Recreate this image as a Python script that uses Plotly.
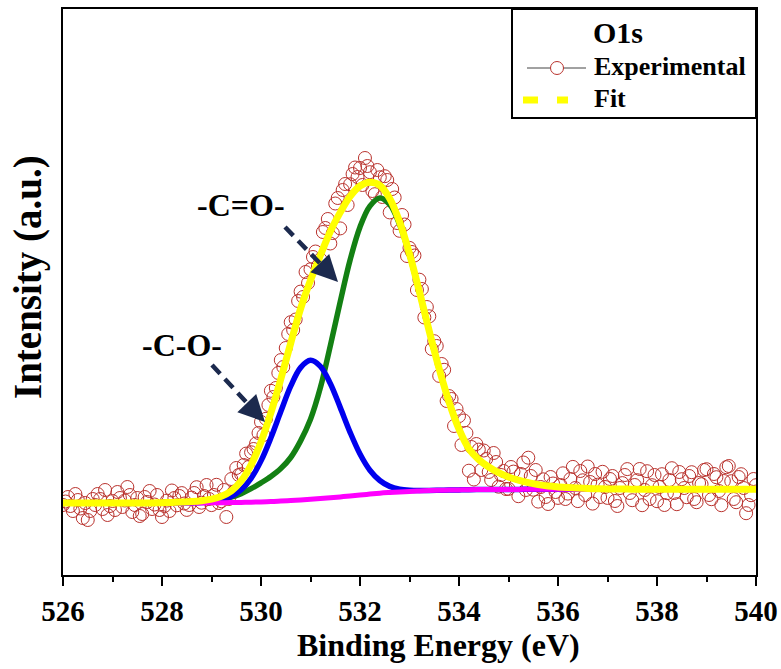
import plotly.graph_objects as go

# ---- O1s XPS spectrum -------------------------------------------------
# Energy grid (eV) on which the background and fitted components are sampled
ENERGY_FIT = [
    526.0, 526.2, 526.4, 526.6, 526.8, 527.0, 527.2, 527.4, 527.6, 527.8,
    528.0, 528.2, 528.4, 528.6, 528.8, 529.0, 529.2, 529.4, 529.6, 529.8,
    530.0, 530.2, 530.4, 530.6, 530.8, 531.0, 531.2, 531.4, 531.6, 531.8,
    532.0, 532.2, 532.4, 532.6, 532.8, 533.0, 533.2, 533.4, 533.6, 533.8,
    534.0, 534.2, 534.4, 534.6, 534.8, 535.0, 535.2, 535.4, 535.6, 535.8,
    536.0, 536.2, 536.4, 536.6, 536.8, 537.0, 537.2, 537.4, 537.6, 537.8,
    538.0, 538.2, 538.4, 538.6, 538.8, 539.0, 539.2, 539.4, 539.6, 539.8,
    540.0,
]

# Shirley-type background (a.u.)
BACKGROUND = [
    720, 720, 720, 720, 720, 720, 720, 720, 720, 720,
    720, 720, 720, 721, 721, 722, 723, 724, 726, 728,
    731, 735, 739, 745, 751, 757, 764, 772, 781, 790,
    800, 809, 818, 825, 831, 836, 840, 844, 847, 849,
    851, 853, 854, 855, 855, 856, 856, 857, 857, 857,
    858, 858, 858, 858, 858, 858, 858, 858, 858, 858,
    858, 858, 858, 858, 858, 858, 858, 858, 858, 858,
    858,
]

# -C-O- component, intensity above background (a.u.)
PEAK_C_O = [
    0, 0, 0, 0, 0, 0, 0, 0, 0, 0,
    0, 0, 1, 1, 4, 11, 27, 61, 127, 239,
    410, 637, 895, 1143, 1323, 1390, 1323, 1143, 895, 637,
    410, 239, 127, 61, 27, 11, 4, 1, 0, 0,
    0, 0, 0, 0, 0, 0, 0, 0, 0, 0,
    0, 0, 0, 0, 0, 0, 0, 0, 0, 0,
    0, 0, 0, 0, 0, 0, 0, 0, 0, 0,
    0,
]

# -C=O- component, intensity above background (a.u.)
PEAK_C_DOUBLE_O = [
    0, 0, 0, 0, 0, 0, 0, 0, 0, 0,
    3, 5, 8, 12, 18, 26, 38, 55, 88, 135,
    190, 250, 325, 430, 590, 800, 1110, 1520, 1950, 2360,
    2680, 2880, 2952, 2880, 2674, 2364, 1989, 1592, 1214, 880,
    608, 410, 300, 225, 168, 125, 92, 66, 47, 33,
    23, 16, 11, 7, 5, 3, 2, 1, 0, 0,
    0, 0, 0, 0, 0, 0, 0, 0, 0, 0,
    0,
]

# Measured spectrum
ENERGY_EXP = [
    526.00, 526.05, 526.10, 526.15, 526.20, 526.25, 526.30, 526.35, 526.40, 526.45,
    526.50, 526.55, 526.60, 526.65, 526.70, 526.75, 526.80, 526.85, 526.90, 526.95,
    527.00, 527.05, 527.10, 527.15, 527.20, 527.25, 527.30, 527.35, 527.40, 527.45,
    527.50, 527.55, 527.60, 527.65, 527.70, 527.75, 527.80, 527.85, 527.90, 527.95,
    528.00, 528.05, 528.10, 528.15, 528.20, 528.25, 528.30, 528.35, 528.40, 528.45,
    528.50, 528.55, 528.60, 528.65, 528.70, 528.75, 528.80, 528.85, 528.90, 528.95,
    529.00, 529.05, 529.10, 529.15, 529.20, 529.25, 529.30, 529.35, 529.40, 529.45,
    529.50, 529.55, 529.60, 529.65, 529.70, 529.75, 529.80, 529.85, 529.90, 529.95,
    530.00, 530.05, 530.10, 530.15, 530.20, 530.25, 530.30, 530.35, 530.40, 530.45,
    530.50, 530.55, 530.60, 530.65, 530.70, 530.75, 530.80, 530.85, 530.90, 530.95,
    531.00, 531.05, 531.10, 531.15, 531.20, 531.25, 531.30, 531.35, 531.40, 531.45,
    531.50, 531.55, 531.60, 531.65, 531.70, 531.75, 531.80, 531.85, 531.90, 531.95,
    532.00, 532.05, 532.10, 532.15, 532.20, 532.25, 532.30, 532.35, 532.40, 532.45,
    532.50, 532.55, 532.60, 532.65, 532.70, 532.75, 532.80, 532.85, 532.90, 532.95,
    533.00, 533.05, 533.10, 533.15, 533.20, 533.25, 533.30, 533.35, 533.40, 533.45,
    533.50, 533.55, 533.60, 533.65, 533.70, 533.75, 533.80, 533.85, 533.90, 533.95,
    534.00, 534.05, 534.10, 534.15, 534.20, 534.25, 534.30, 534.35, 534.40, 534.45,
    534.50, 534.55, 534.60, 534.65, 534.70, 534.75, 534.80, 534.85, 534.90, 534.95,
    535.00, 535.05, 535.10, 535.15, 535.20, 535.25, 535.30, 535.35, 535.40, 535.45,
    535.50, 535.55, 535.60, 535.65, 535.70, 535.75, 535.80, 535.85, 535.90, 535.95,
    536.00, 536.05, 536.10, 536.15, 536.20, 536.25, 536.30, 536.35, 536.40, 536.45,
    536.50, 536.55, 536.60, 536.65, 536.70, 536.75, 536.80, 536.85, 536.90, 536.95,
    537.00, 537.05, 537.10, 537.15, 537.20, 537.25, 537.30, 537.35, 537.40, 537.45,
    537.50, 537.55, 537.60, 537.65, 537.70, 537.75, 537.80, 537.85, 537.90, 537.95,
    538.00, 538.05, 538.10, 538.15, 538.20, 538.25, 538.30, 538.35, 538.40, 538.45,
    538.50, 538.55, 538.60, 538.65, 538.70, 538.75, 538.80, 538.85, 538.90, 538.95,
    539.00, 539.05, 539.10, 539.15, 539.20, 539.25, 539.30, 539.35, 539.40, 539.45,
    539.50, 539.55, 539.60, 539.65, 539.70, 539.75, 539.80, 539.85, 539.90, 539.95,
    540.00,
]

COUNTS_EXP = [
    700, 735, 780, 690, 640, 810, 750, 665, 570, 720,
    550, 640, 760, 700, 810, 760, 660, 850, 600, 690,
    740, 650, 830, 770, 680, 745, 880, 800, 630, 700,
    770, 590, 610, 780, 730, 840, 660, 705, 800, 650,
    580, 690, 744, 640, 845, 770, 697, 790, 819, 715,
    651, 700, 774, 820, 878, 680, 723, 790, 900, 760,
    699, 800, 902, 720, 738, 850, 580, 760, 960, 830,
    1070, 1000, 1008, 1100, 1214, 1080, 1227, 1260, 1315, 1420,
    1531, 1400, 1562, 1700, 1842, 1780, 1870, 2020, 2149, 2080,
    2270, 2410, 2528, 2450, 2555, 2740, 2834, 2780, 3030, 2920,
    3057, 3180, 3235, 3090, 3157, 3430, 3470, 3560, 3315, 3420,
    3715, 3770, 3466, 3850, 3910, 3700, 3907, 4010, 4075, 3980,
    4070, 3900, 4170, 4090, 4028, 3840, 3808, 4050, 3977, 3780,
    3988, 3950, 3626, 3860, 3775, 3520, 3442, 3600, 3505, 3190,
    3271, 3230, 3195, 2850, 2953, 2860, 2575, 2680, 2587, 2260,
    2338, 2290, 1991, 2110, 2052, 1740, 1789, 1760, 1490, 1660,
    1589, 1300, 1545, 1420, 1043, 1280, 955, 1310, 1254, 1050,
    1245, 1160, 1030, 950, 1220, 1130, 883, 1000, 1040, 860,
    861, 1080, 1034, 900, 788, 1010, 1125, 850, 1173, 990,
    853, 1050, 734, 880, 957, 780, 710, 980, 915, 830,
    771, 900, 1017, 760, 814, 960, 1081, 870, 739, 1040,
    947, 800, 1085, 930, 714, 1010, 903, 780, 1032, 880,
    771, 960, 990, 740, 690, 870, 919, 1000, 1059, 820,
    748, 900, 948, 1060, 698, 850, 1038, 760, 898, 1000,
    738, 880, 1008, 700, 818, 950, 1068, 820, 708, 1030,
    958, 870, 778, 990, 1028, 760, 728, 920, 908, 1050,
    1058, 800, 758, 1010, 978, 840, 698, 940, 1078, 1090,
    938, 760, 728, 980, 1008, 870, 618, 700, 798, 960,
    898,
]

# Component curves are plotted on top of the background; the envelope is their sum
curve_c_o = [b + p for b, p in zip(BACKGROUND, PEAK_C_O)]
curve_c_double_o = [b + p for b, p in zip(BACKGROUND, PEAK_C_DOUBLE_O)]
envelope = [b + p1 + p2 for b, p1, p2 in zip(BACKGROUND, PEAK_C_O, PEAK_C_DOUBLE_O)]

FONT = "Liberation Serif"
DATA_RED = "rgb(185,50,45)"
FIT_YELLOW = "#ffff00"
ARROW_NAVY = "#1c2a4e"

# Plot-area geometry in pixels (used to place the key box in paper units)
PLOT_LEFT, PLOT_TOP, PLOT_W, PLOT_H = 63, 9, 693, 566


def px_x(px):
    return (px - PLOT_LEFT) / PLOT_W


def px_y(py):
    return (PLOT_TOP + PLOT_H - py) / PLOT_H


fig = go.Figure()

fig.add_trace(go.Scatter(
    x=ENERGY_EXP, y=COUNTS_EXP, mode="markers", name="Experimental", showlegend=False,
    marker=dict(symbol="circle-open", size=13, color=DATA_RED, line=dict(width=1)),
))
fig.add_trace(go.Scatter(
    x=ENERGY_FIT, y=curve_c_double_o, mode="lines", name="-C=O-", showlegend=False,
    line=dict(color="#138013", width=5.5, shape="spline"),
))
fig.add_trace(go.Scatter(
    x=ENERGY_FIT, y=curve_c_o, mode="lines", name="-C-O-", showlegend=False,
    line=dict(color="#0000ee", width=5.5, shape="spline"),
))
fig.add_trace(go.Scatter(
    x=ENERGY_FIT, y=BACKGROUND, mode="lines", name="Background", showlegend=False,
    line=dict(color="#ff00ff", width=5, shape="spline"),
))
fig.add_trace(go.Scatter(
    x=ENERGY_FIT, y=envelope, mode="lines", name="Fit", showlegend=False,
    line=dict(color=FIT_YELLOW, width=7, shape="spline"),
))

annotations = []
shapes = []

# Peak labels with dashed arrows
labels = [("-C=O-", 529.6, 3700), ("-C-O-", 528.4, 2300)]
arrows = [
    # (start x, start y, shaft end x, shaft end y, tip x, tip y)
    (530.485, 3480, 531.414, 3002, 531.556, 2930),
    (529.010, 2100, 529.939, 1602, 530.081, 1530),
]
for text, lx, ly in labels:
    annotations.append(dict(
        x=lx, y=ly, xref="x", yref="y", text=text, showarrow=False,
        font=dict(family=FONT, size=32, color="black", weight="bold"),
    ))
for sx, sy, ex, ey, tx, ty in arrows:
    shapes.append(dict(
        type="line", xref="x", yref="y", x0=sx, y0=sy, x1=ex, y1=ey,
        line=dict(color=ARROW_NAVY, width=4.5, dash="12px,7px"),
    ))
    annotations.append(dict(
        x=tx, y=ty, xref="x", yref="y", text="", showarrow=True,
        ax=-9, ay=-9.3, arrowhead=2, arrowsize=1.5, arrowwidth=3.5,
        arrowcolor=ARROW_NAVY, standoff=0,
    ))

# Key box in the upper-right corner
shapes.append(dict(
    type="rect", xref="paper", yref="paper",
    x0=px_x(512), x1=1.0, y0=px_y(118), y1=1.0,
    line=dict(color="black", width=2), fillcolor="white", layer="above",
))
annotations.append(dict(
    x=px_x(618), y=px_y(33), xref="paper", yref="paper", text="O1s",
    showarrow=False, xanchor="center", yanchor="middle",
    font=dict(family=FONT, size=30, color="black", weight="bold"),
))
# Experimental: thin line through an open circle
shapes.append(dict(
    type="line", xref="paper", yref="paper",
    x0=px_x(527), x1=px_x(586), y0=px_y(68), y1=px_y(68),
    line=dict(color="#444444", width=1),
))
shapes.append(dict(
    type="circle", xref="paper", yref="paper",
    x0=px_x(550.5), x1=px_x(563.5), y0=px_y(74.5), y1=px_y(61.5),
    line=dict(color=DATA_RED, width=1), fillcolor="white", layer="above",
))
annotations.append(dict(
    x=px_x(592), y=px_y(67), xref="paper", yref="paper", text="Experimental",
    showarrow=False, xanchor="left", yanchor="middle",
    font=dict(family=FONT, size=26, color="black", weight="bold"),
))
# Fit: dashed yellow stroke
shapes.append(dict(
    type="line", xref="paper", yref="paper",
    x0=px_x(523), x1=px_x(568), y0=px_y(100), y1=px_y(100),
    line=dict(color=FIT_YELLOW, width=7, dash="15px,19px"),
))
annotations.append(dict(
    x=px_x(592), y=px_y(98), xref="paper", yref="paper", text="Fit",
    showarrow=False, xanchor="left", yanchor="middle",
    font=dict(family=FONT, size=26, color="black", weight="bold"),
))

# Axis titles
annotations.append(dict(
    x=px_x(438), y=px_y(645), xref="paper", yref="paper", text="Binding Energy (eV)",
    showarrow=False, xanchor="center", yanchor="middle",
    font=dict(family=FONT, size=32, color="black", weight="bold"),
))
annotations.append(dict(
    x=px_x(28), y=px_y(277), xref="paper", yref="paper", text="Intensity (a.u.)",
    showarrow=False, xanchor="center", yanchor="middle", textangle=-90,
    font=dict(family=FONT, size=39, color="black", weight="bold"),
))

fig.update_layout(
    width=781, height=669,
    margin=dict(l=63, r=25, t=9, b=94),
    plot_bgcolor="white", paper_bgcolor="white",
    font=dict(family=FONT, color="black"),
    showlegend=False,
    annotations=annotations, shapes=shapes,
)

fig.update_xaxes(
    range=[526, 540], tick0=526, dtick=2, automargin=False,
    ticks="outside", ticklen=9, tickwidth=2, tickcolor="black",
    minor=dict(dtick=1, ticks="outside", ticklen=5, tickwidth=2, tickcolor="black"),
    showline=True, linewidth=2, linecolor="black", mirror=True,
    showgrid=False, zeroline=False,
    tickfont=dict(family=FONT, size=29, color="black", weight="bold"),
)
fig.update_yaxes(
    range=[0, 5660], showticklabels=False, ticks="", automargin=False,
    showline=True, linewidth=2, linecolor="black", mirror=True,
    showgrid=False, zeroline=False,
)

fig.write_html("out.html")
